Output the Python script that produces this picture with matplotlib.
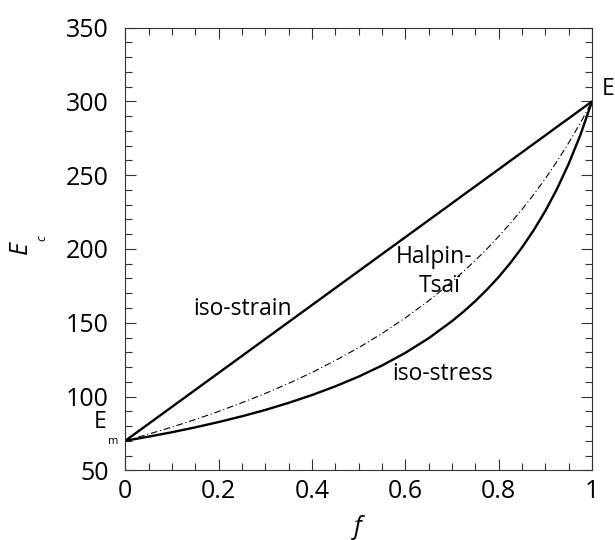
import matplotlib
matplotlib.use("Agg")
import matplotlib.pyplot as plt
from matplotlib.ticker import MultipleLocator

# volume fraction samples
f = [0.00, 0.05, 0.10, 0.15, 0.20, 0.25, 0.30, 0.35, 0.40, 0.45, 0.50,
     0.55, 0.60, 0.65, 0.70, 0.725, 0.75, 0.775, 0.80, 0.825, 0.85,
     0.875, 0.90, 0.925, 0.95, 0.975, 1.00]
# iso-strain (upper bound)
iso_strain = [70.0, 81.5, 93.0, 104.5, 116.0, 127.5, 139.0, 150.5, 162.0, 173.5, 185.0,
              196.5, 208.0, 219.5, 231.0, 236.8, 242.5, 248.3, 254.0, 259.8, 265.5,
              271.3, 277.0, 282.8, 288.5, 294.3, 300.0]
# iso-stress (lower bound)
iso_stress = [70.0, 72.8, 75.8, 79.1, 82.7, 86.6, 90.9, 95.7, 101.0, 106.9, 113.5,
              121.0, 129.6, 139.5, 151.1, 157.6, 164.7, 172.5, 181.0, 190.5, 201.0,
              212.7, 225.8, 240.7, 257.7, 277.2, 300.0]
# Halpin-Tsai
halpin_tsai = [70.0, 74.5, 79.3, 84.4, 89.9, 95.8, 102.1, 108.9, 116.3, 124.4, 133.1,
               142.7, 153.3, 164.9, 177.8, 184.9, 192.3, 200.1, 208.5, 217.4, 226.8,
               236.9, 247.7, 259.4, 271.9, 285.4, 300.0]

plt.rcParams['font.family'] = ['Open Sans', 'DejaVu Sans']

fig = plt.figure(figsize=(6.15, 5.4), dpi=100)
ax = fig.add_axes([0.2037, 0.1291, 0.7589, 0.8196])

ax.plot(f, iso_strain, color='black', lw=1.7, solid_capstyle='round', solid_joinstyle='round')
ax.plot(f, iso_stress, color='black', lw=1.7, solid_capstyle='round', solid_joinstyle='round')
ax.plot(f, halpin_tsai, color='black', lw=0.8, linestyle=(0, (6, 2.5, 1, 2.5)))

ax.set_xlim(0, 1)
ax.set_ylim(50, 350)
ax.xaxis.set_minor_locator(MultipleLocator(0.05))
ax.yaxis.set_major_locator(MultipleLocator(50))
ax.yaxis.set_minor_locator(MultipleLocator(10))
ax.set_xticks([0, 0.2, 0.4, 0.6, 0.8, 1.0])
ax.set_xticklabels(['0', '0.2', '0.4', '0.6', '0.8', '1'])
ax.tick_params(which='both', direction='in', top=True, right=True, color='#333333', width=0.8)
ax.tick_params(which='major', length=8)
ax.tick_params(which='minor', length=5)
ax.tick_params(axis='y', which='major', labelsize=18, pad=12)
ax.tick_params(axis='x', which='major', labelsize=18, pad=6)
for s in ax.spines.values():
    s.set_linewidth(0.8)
    s.set_color('#333333')

fs = 16.5
ax.text(0.252, 159, 'iso-strain', fontsize=fs, ha='center', va='center')
ax.text(0.662, 194.4, 'Halpin-', fontsize=fs, ha='center', va='center')
ax.text(0.673, 174.6, 'Tsaï', fontsize=fs, ha='center', va='center')
ax.text(0.679, 115.2, 'iso-stress', fontsize=fs, ha='center', va='center')
ax.text(-0.054, 82.6, 'E', fontsize=fs, ha='center', va='center', clip_on=False)
ax.text(-0.025, 69.8, 'm', fontsize=8, ha='center', va='center', clip_on=False)
ax.text(1.021, 308.6, 'E', fontsize=fs, ha='left', va='center', clip_on=False)

fig.text(20 / 615, 1 - 248 / 540, 'E', fontsize=18, style='italic', rotation=90,
         ha='center', va='center')
fig.text(42 / 615, 1 - 238 / 540, 'c', fontsize=9, style='italic', rotation=90,
         ha='center', va='center')
fig.text(358 / 615, 1 - 527 / 540, 'f', fontsize=18, style='italic',
         ha='center', va='center')

fig.savefig('out.png', dpi=100)
